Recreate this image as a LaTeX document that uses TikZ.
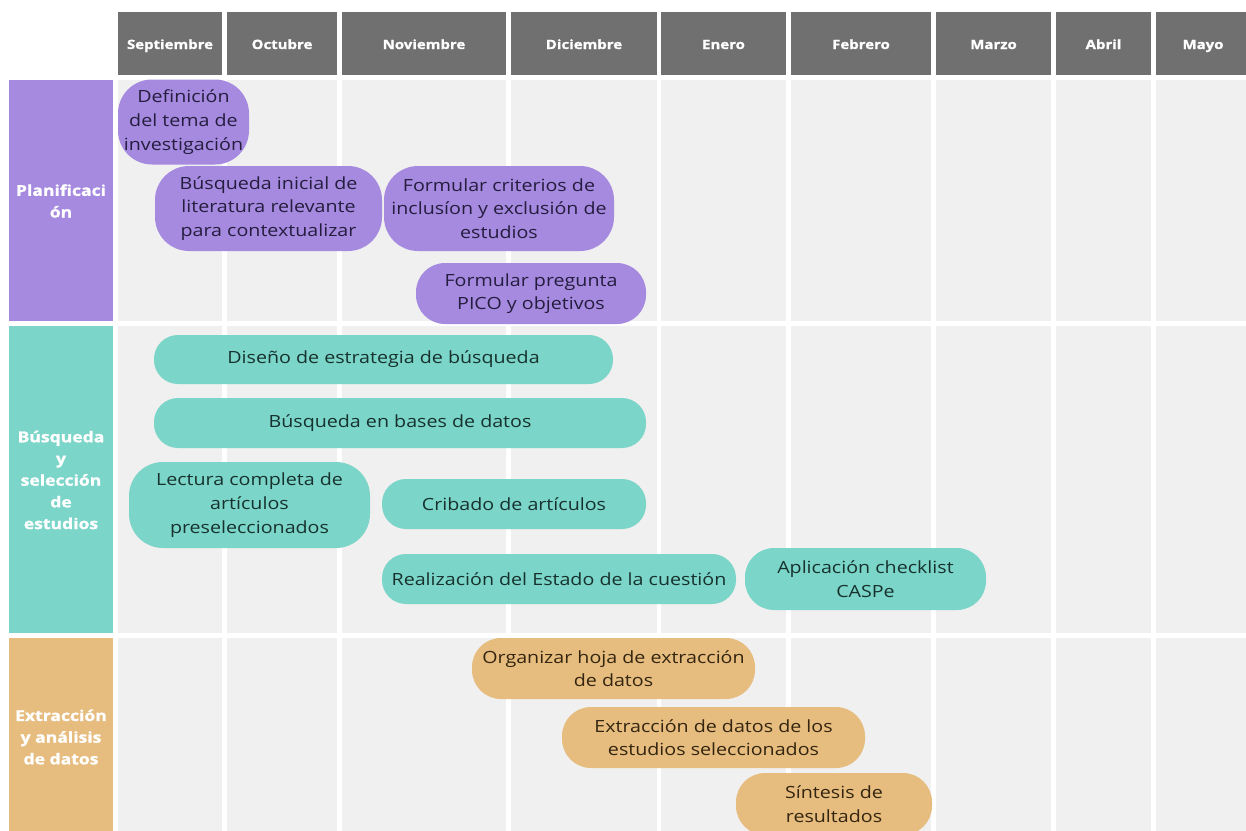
\documentclass[tikz,border=0pt]{standalone}
\usepackage{fontspec}
\setmainfont{Open Sans}[FakeStretch=1.17,BoldFeatures={FakeBold=1.2}]
\definecolor{hdrgray}{HTML}{707070}
\definecolor{cellgray}{HTML}{F0F0F0}
\definecolor{purp}{HTML}{A68AE0}
\definecolor{teal2}{HTML}{7BD5C8}
\definecolor{tan2}{HTML}{E6BD7F}
\definecolor{purptext}{HTML}{241D3E}
\definecolor{tealtext}{HTML}{17322E}
\definecolor{tantext}{HTML}{33250F}
\begin{document}
\begin{tikzpicture}[x=1pt,y=-1pt,
  hdrtext/.style={text=white,font=\bfseries\fontsize{12.8}{14}\selectfont,inner sep=0pt,anchor=base},
  lbl/.style={text=white,font=\bfseries\fontsize{15}{21.7}\selectfont,align=center,inner sep=0pt},
  bar/.style={rounded corners=24pt,inner sep=0pt,align=center,draw=none,font=\fontsize{16.8}{23.7}\selectfont},
  tall/.style={rounded corners=34pt},
  mid/.style={rounded corners=29pt},
  pbar/.style={bar,fill=purp,text=purptext},
  tbar/.style={bar,fill=teal2,text=tealtext},
  obar/.style={bar,fill=tan2,text=tantext}]
\path[use as bounding box,clip] (0,0) rectangle (1246,830);
\fill[white] (0,0) rectangle (1246,830);
% header and cells
\foreach \l/\r/\m [count=\i] in {118/222/Septiembre,227/337/Octubre,342/506/Noviembre,511/657/Diciembre,661/786/Enero,791/931/Febrero,936/1051/Marzo,1056/1151/Abril,1156/1250/Mayo}{
  \fill[hdrgray] (\l,12) rectangle (\r,75);
  \node[hdrtext] (h\i) at ({(\l+\r)/2},49) {\m};
  \foreach \t/\b in {80/321,326/633,638/840}{
    \fill[cellgray] (\l,\t) rectangle (\r,\b);
  }
}
% row labels
\fill[purp] (9,80) rectangle (113,321);
\fill[teal2] (9,326) rectangle (113,633);
\fill[tan2] (9,638) rectangle (113,840);
\node[lbl] (l1) at (61,201) {Planificaci\\ón};
\node[lbl] (l2) at (61,480) {Búsqueda\\y\\selección\\de\\estudios};
\node[lbl] (l3) at (61,737) {Extracción\\y análisis\\de datos};
% bars
\node[pbar,tall,minimum width=131,minimum height=85] (t1) at (183.5,122) {Definición\\del tema de\\investigación};
\node[pbar,tall,minimum width=227,minimum height=85] (t2) at (268.5,208.5) {Búsqueda inicial de\\literatura relevante\\para contextualizar};
\node[pbar,tall,minimum width=230,minimum height=85] (t3) at (499,208.5) {Formular criterios de\\inclusíon y exclusión de\\estudios};
\node[pbar,mid,minimum width=230,minimum height=61] (t4) at (531,293.5) {Formular pregunta\\PICO y objetivos};
\node[tbar,minimum width=459,minimum height=49] (t5) at (383.5,359.5) {Diseño de estrategia de búsqueda};
\node[tbar,minimum width=492,minimum height=50] (t6) at (400,423) {Búsqueda en bases de datos};
\node[tbar,tall,minimum width=241,minimum height=86] (t7) at (249.5,505) {Lectura completa de\\artículos\\preseleccionados};
\node[tbar,minimum width=264,minimum height=50] (t8) at (514,504) {Cribado de artículos};
\node[tbar,minimum width=354,minimum height=50] (t9) at (559,579) {Realización del Estado de la cuestión};
\node[tbar,mid,minimum width=241,minimum height=62] (t10) at (865.5,579) {Aplicación checklist\\CASPe};
\node[obar,mid,minimum width=283,minimum height=61] (t11) at (613.5,668.5) {Organizar hoja de extracción\\de datos};
\node[obar,mid,minimum width=303,minimum height=61] (t12) at (713.5,737.5) {Extracción de datos de los\\estudios seleccionados};
\node[obar,mid,minimum width=196,minimum height=62] (t13) at (834,804) {Síntesis de\\resultados};
\end{tikzpicture}
\end{document}
